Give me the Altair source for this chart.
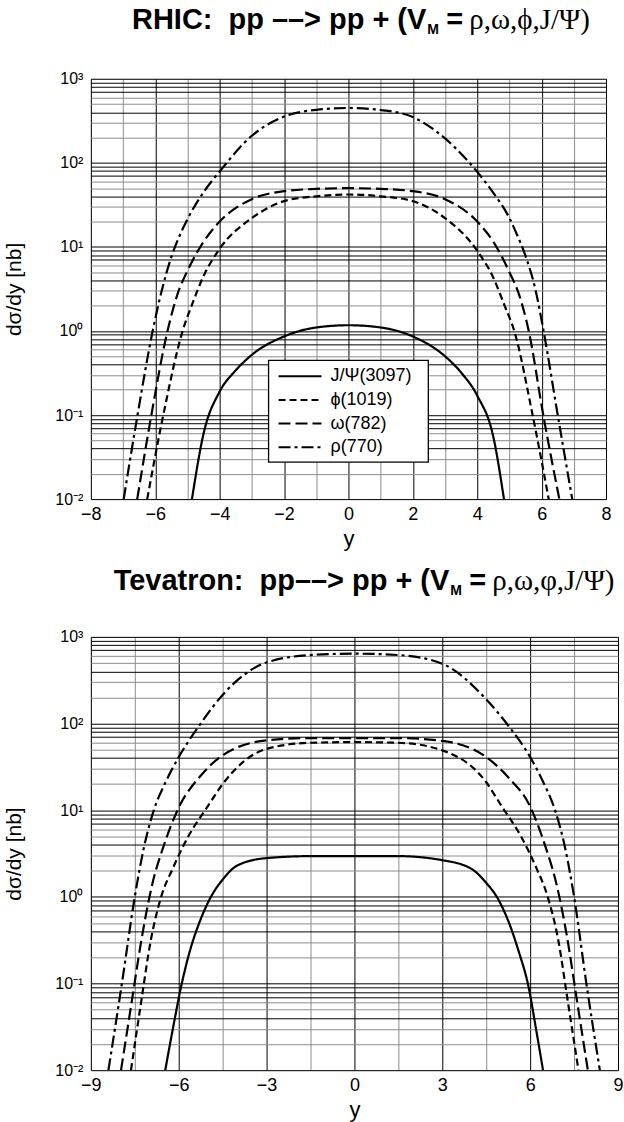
import altair as alt
import pandas as pd

# ---------------- data ----------------
SERIES = ["J/Ψ(3097)", "ϕ(1019)", "ω(782)", "ρ(770)"]
DASHES = [[1, 0], [7, 4], [12, 5], [12, 4, 3, 4]]
legend_rows = [0, 1, 2, 3]

# RHIC panel
rhic_jpsi_y = [-4.86, -4.5, -4.0, -3.5, -3.0, -2.0, -1.0, 0.0, 1.0, 2.0, 3.0, 3.5, 4.0, 4.5, 4.83]
rhic_jpsi_v = [0.01, 0.06, 0.19, 0.34, 0.52, 0.86, 1.1, 1.17, 1.1, 0.86, 0.5, 0.32, 0.17, 0.055, 0.01]
rhic_phi_y = [-6.25, -5.75, -5.15, -4.85, -4.5, -4.0, -3.0, -2.0, -1.0, 0.0, 1.0, 2.0, 3.0, 4.0, 4.5, 4.85, 5.15, 5.72, 6.22]
rhic_phi_v = [0.01, 0.1, 1.0, 2.1, 4.5, 9.5, 22, 35, 40, 42, 40, 35, 22, 9.0, 4.3, 2.0, 1.0, 0.1, 0.01]
rhic_omega_y = [-6.56, -6.12, -5.62, -5.3, -5.0, -4.5, -4.0, -3.0, -2.0, -1.0, 0.0, 1.0, 2.0, 3.0, 4.0, 4.5, 5.0, 5.3, 5.6, 6.05, 6.55]
rhic_omega_v = [0.01, 0.1, 1.0, 2.8, 5.2, 11.5, 20, 37, 46, 49, 50, 49, 46, 37, 20, 11.5, 5.0, 2.7, 1.0, 0.1, 0.01]
rhic_rho_y = [-6.98, -6.55, -6.08, -5.8, -5.5, -5.2, -5.0, -4.5, -4.0, -3.0, -2.0, -1.0, 0.0, 1.0, 2.0, 3.0, 4.0, 4.5, 5.0, 5.2, 5.5, 5.8, 6.06, 6.5, 6.95]
rhic_rho_v = [0.01, 0.1, 1.0, 3.0, 7.6, 14.8, 21.4, 44.7, 79, 210, 355, 427, 449, 425, 350, 195, 78, 44, 22, 15, 7.8, 3.2, 1.0, 0.1, 0.01]

# Tevatron panel
tev_jpsi_y = [-6.46, -6.2, -5.91, -5.6, -5.3, -4.9, -4.5, -4.0, -3.0, -1.5, 0.0, 1.5, 3.0, 4.0, 4.5, 4.9, 5.3, 5.6, 5.95, 6.2, 6.44]
tev_jpsi_v = [0.01, 0.03, 0.095, 0.25, 0.5, 1.0, 1.58, 2.3, 2.8, 2.95, 2.95, 2.95, 2.65, 2.1, 1.45, 0.95, 0.48, 0.24, 0.09, 0.03, 0.01]
tev_phi_y = [-7.63, -7.3, -6.95, -6.6, -6.2, -5.7, -5.0, -4.5, -3.0, -1.5, 0.0, 1.5, 3.0, 4.5, 5.0, 5.7, 6.2, 6.6, 6.95, 7.3, 7.65]
tev_phi_v = [0.01, 0.056, 0.32, 1.0, 2.14, 4.8, 11.2, 20, 51, 60, 61, 60, 49, 21, 11.5, 4.9, 2.2, 1.0, 0.33, 0.058, 0.01]
tev_omega_y = [-7.97, -7.6, -7.25, -6.9, -6.5, -6.0, -5.25, -4.5, -3.0, -1.5, 0.0, 1.5, 3.0, 4.5, 5.25, 6.0, 6.5, 6.9, 7.25, 7.6, 7.97]
tev_omega_v = [0.01, 0.063, 0.355, 1.41, 4.0, 10.7, 25, 43, 64, 68, 68, 68, 63, 41, 24, 11, 4.0, 1.4, 0.36, 0.063, 0.01]
tev_rho_y = [-8.40, -7.94, -7.5, -7.2, -6.85, -6.45, -6.0, -5.25, -4.5, -3.0, -1.5, 0.0, 1.5, 3.0, 4.5, 5.25, 6.0, 6.45, 6.85, 7.2, 7.5, 7.92, 8.38]
tev_rho_v = [0.01, 0.1, 1.0, 3.55, 10, 21, 41, 100, 214, 507, 617, 640, 617, 490, 190, 95, 41, 21, 10, 3.6, 1.0, 0.1, 0.01]

# axis tick values
rhic_x_ticks = [-8, -7, -6, -5, -4, -3, -2, -1, 0, 1, 2, 3, 4, 5, 6, 7, 8]
tev_x_ticks = [-9, -7.5, -6, -4.5, -3, -1.5, 0, 1.5, 3, 4.5, 6, 7.5, 9]
mantissas = [1, 2, 3, 4, 5, 6, 7, 8, 9]
decades = [0.01, 0.1, 1, 10, 100]
y_ticks = [round(m * d, 6) for d in decades for m in mantissas] + [1000]
y_labels = ["10⁻²", "10⁻¹", "10⁰", "10¹", "10²", "10³"]

# title pieces (non-breaking spaces keep the double gap)
rhic_title = ["RHIC:\u00a0\u00a0pp ––> pp + (V", "M", "=", "ρ,ω,ϕ,J/Ψ)"]
tev_title = ["Tevatron:\u00a0\u00a0pp––> pp + (V", "M", "=", "ρ,ω,φ,J/Ψ)"]


def frame(pairs):
    rows = []
    for name, ys, vs in pairs:
        for a, b in zip(ys, vs):
            rows.append({"series": name, "y": a, "v": b})
    return pd.DataFrame(rows)


rhic_df = frame([
    (SERIES[0], rhic_jpsi_y, rhic_jpsi_v),
    (SERIES[1], rhic_phi_y, rhic_phi_v),
    (SERIES[2], rhic_omega_y, rhic_omega_v),
    (SERIES[3], rhic_rho_y, rhic_rho_v),
])
tev_df = frame([
    (SERIES[0], tev_jpsi_y, tev_jpsi_v),
    (SERIES[1], tev_phi_y, tev_phi_v),
    (SERIES[2], tev_omega_y, tev_omega_v),
    (SERIES[3], tev_rho_y, tev_rho_v),
])
legend_df = pd.DataFrame({"series": SERIES, "row": legend_rows})

SANS = "Liberation Sans"
SERIF = "Liberation Serif"

log_e = "log(datum.value)/LN10"
decade_test = f"abs({log_e} - round({log_e})) < 0.001"
gray_y_test = f"indexof([2,3,5,6], round(datum.value / pow(10, floor({log_e} + 0.000001)))) >= 0"
label_arr = "[" + ",".join(f"'{s}'" for s in y_labels) + "]"
y_label_expr = f"{decade_test} ? {label_arr}[round({log_e}) + 2] : ''"

TFS = 29  # title font size
dash_scale = alt.Scale(domain=SERIES, range=DASHES)


def legend_layers():
    box = alt.Chart(pd.DataFrame({"b": [0]})).mark_rect(
        fill="white", stroke="black", strokeWidth=1.3
    ).encode(x=alt.value(178), x2=alt.value(338), y=alt.value(282), y2=alt.value(384))
    row_y = alt.Y("row:Q", scale=alt.Scale(domain=[0, 3], range=[298, 369]), axis=None)
    sym = alt.Chart(legend_df).mark_rule(color="black", strokeWidth=2).encode(
        x=alt.value(188), x2=alt.value(231), y=row_y,
        strokeDash=alt.StrokeDash("series:N", scale=dash_scale, legend=None),
    )
    lab = alt.Chart(legend_df).mark_text(
        font=SANS, fontSize=18, align="left", baseline="middle", color="black"
    ).encode(x=alt.value(240), y=row_y, text="series:N")
    return [box, sym, lab]


def panel(df, xdom, xticks, label_mod, w, h, title, title_x, title_y, legend):
    x_axis = alt.Axis(
        values=xticks, title="y", grid=True, ticks=False, domain=False,
        labelExpr=f"datum.value % {label_mod} == 0 ? datum.label : ''",
        gridColor={"condition": {"test": f"datum.value % {label_mod} != 0", "value": "#8c8c8c"}, "value": "black"},
        gridWidth=1, labelFont=SANS, labelFontSize=18, labelColor="black", labelPadding=6,
        labelFlush=False, labelOverlap=False, titleFont=SANS, titleFontSize=22,
        titleFontWeight="normal", titleColor="black", titlePadding=5,
    )
    y_axis = alt.Axis(
        values=y_ticks, title="dσ/dy [nb]", grid=True, ticks=False, domain=False,
        labelExpr=y_label_expr,
        gridColor={"condition": {"test": gray_y_test, "value": "#8c8c8c"}, "value": "black"},
        gridWidth=1, labelFont=SANS, labelFontSize=16, labelColor="black", labelPadding=8,
        labelOverlap=False, labelFlush=False, titleFont=SANS, titleFontSize=21,
        titleFontWeight="normal", titleColor="black", titlePadding=30,
    )
    lines = alt.Chart(df).mark_line(
        color="black", strokeWidth=2.2, interpolate="monotone", clip=True
    ).encode(
        x=alt.X("y:Q", scale=alt.Scale(domain=xdom, nice=False, zero=False), axis=x_axis),
        y=alt.Y("v:Q", scale=alt.Scale(type="log", domain=[0.01, 1000], nice=False), axis=y_axis),
        strokeDash=alt.StrokeDash("series:N", scale=dash_scale, legend=None),
    )
    t0 = alt.Chart(pd.DataFrame({"t": [title[0]]})).mark_text(
        font=SANS, fontSize=TFS, fontWeight="bold", align="right", baseline="alphabetic", color="black"
    ).encode(text="t:N", x=alt.value(title_x), y=alt.value(title_y))
    t1 = alt.Chart(pd.DataFrame({"t": [title[1]]})).mark_text(
        font=SANS, fontSize=14, fontWeight="bold", align="left", baseline="alphabetic", color="black"
    ).encode(text="t:N", x=alt.value(title_x + 1), y=alt.value(title_y + 5))
    t2 = alt.Chart(pd.DataFrame({"t": [title[2]]})).mark_text(
        font=SANS, fontSize=TFS, fontWeight="bold", align="left", baseline="alphabetic", color="black"
    ).encode(text="t:N", x=alt.value(title_x + 20), y=alt.value(title_y))
    t3 = alt.Chart(pd.DataFrame({"t": [title[3]]})).mark_text(
        font=SERIF, fontSize=TFS, align="left", baseline="alphabetic", color="black"
    ).encode(text="t:N", x=alt.value(title_x + 43), y=alt.value(title_y))
    layers = [lines] + (legend_layers() if legend else []) + [t0, t1, t2, t3]
    ch = alt.layer(*layers).properties(width=w, height=h)
    if legend:
        ch = ch.resolve_scale(y="independent")
    return ch


top = panel(rhic_df, [-8, 8], rhic_x_ticks, 2, 516, 421, rhic_title, 336, -50, True)
bottom = panel(tev_df, [-9, 9], tev_x_ticks, 3, 528, 434, tev_title, 359, -47, False)

chart = alt.vconcat(top, bottom, spacing=16, padding={"left": 3, "top": 4, "right": 0, "bottom": 0}).resolve_scale(
    strokeDash="independent"
).configure_view(
    stroke="black", strokeWidth=2.5
).configure(background="white")

chart.save("out.html", embed_options={"renderer": "svg", "actions": False})
